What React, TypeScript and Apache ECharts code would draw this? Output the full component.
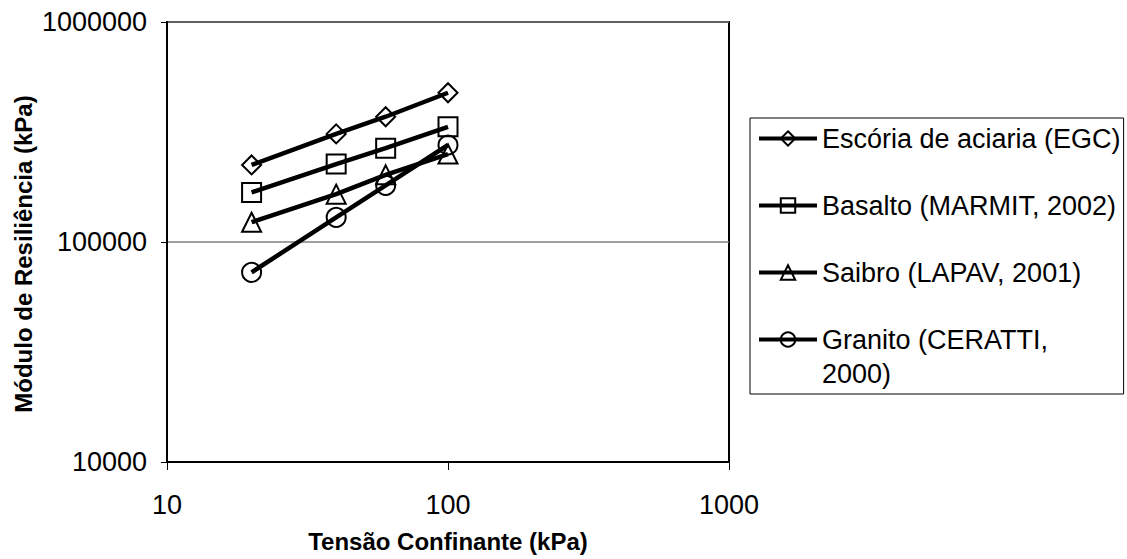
import React, { useEffect, useRef } from 'react';
import * as echarts from 'echarts';

const xValues = [20, 40, 60, 100];
const seriesNames = [
  'Escória de aciaria (EGC)',
  'Basalto (MARMIT, 2002)',
  'Saibro (LAPAV, 2001)',
  'Granito (CERATTI, 2000)',
];
// legend text as it is wrapped in the original (first line / continuation)
const legendFirstLines = [
  'Escória de aciaria (EGC)',
  'Basalto (MARMIT, 2002)',
  'Saibro (LAPAV, 2001)',
  'Granito (CERATTI,',
];
const legendContinuation = '2000)';
const escoria = [224000, 310000, 371000, 477000];
const basalto = [168000, 226000, 267000, 334000];
const saibro = [123000, 165000, 202000, 251000];
const granito = [72800, 129500, 181000, 276000];
const seriesSymbols = ['diamond', 'rect', 'triangle', 'circle'];
const xTicks = [10, 100, 1000];
const xTickLabels = ['10', '100', '1000'];
const yTicks = [10000, 100000, 1000000];
const yTickLabels = ['10000', '100000', '1000000'];
const xTitle = 'Tensão Confinante (kPa)';
const yTitle = 'Módulo de Resiliência (kPa)';

const FONT = "'Liberation Sans', Arial, sans-serif";

function labelFor(ticks: number[], labels: string[]) {
  return (v: number) => {
    const i = ticks.findIndex((t) => Math.abs(Math.log10(t) - Math.log10(v)) < 1e-6);
    return i >= 0 ? labels[i] : '';
  };
}

export default function App() {
  const ref = useRef<HTMLDivElement>(null);
  useEffect(() => {
    document.body.style.margin = '0';
    const chart = echarts.init(ref.current!, null, { renderer: 'svg' });
    const allData = [escoria, basalto, saibro, granito];
    const LH = 33;
    const LEG_LEFT = 750;
    const LEG_TOP = 118;
    const PAD_TOP = 4;
    const ITEM_GAP = 34;
    chart.setOption({
      animation: false,
      backgroundColor: '#fff',
      textStyle: { fontFamily: FONT },
      grid: {
        left: 167,
        right: 1127 - 729,
        top: 22,
        bottom: 559 - 462,
        show: true,
        borderColor: '#000',
        borderWidth: 2,
        containLabel: false,
      },
      legend: {
        orient: 'vertical',
        left: LEG_LEFT,
        top: LEG_TOP,
        padding: [PAD_TOP, 3, 5 + LH, 7],
        itemGap: ITEM_GAP,
        itemWidth: 58,
        itemHeight: 18,
        borderColor: '#000',
        borderWidth: 1,
        selectedMode: false,
        lineStyle: { width: 4, color: '#000' },
        textStyle: { fontSize: 27, color: '#000', fontFamily: FONT, lineHeight: LH },
        formatter: (name: string) => legendFirstLines[seriesNames.indexOf(name)],
        data: seriesNames,
      },
      graphic: [
        {
          type: 'text',
          left: LEG_LEFT + 7 + 58 + 7,
          top: LEG_TOP + PAD_TOP + 3 * (LH + ITEM_GAP) + LH + 1,
          style: {
            text: legendContinuation,
            font: `27px ${FONT}`,
            fill: '#000',
            lineHeight: LH,
          },
        },
      ],
      xAxis: {
        type: 'log',
        logBase: 10,
        min: xTicks[0],
        max: xTicks[xTicks.length - 1],
        name: xTitle,
        nameLocation: 'middle',
        nameGap: 67,
        nameTextStyle: { fontSize: 24, fontWeight: 'bold', color: '#000', fontFamily: FONT },
        axisLine: { lineStyle: { color: '#000', width: 2 } },
        axisTick: { show: true, length: 8, lineStyle: { color: '#000', width: 1 } },
        axisLabel: {
          fontSize: 27,
          color: '#000',
          margin: 29,
          fontFamily: FONT,
          formatter: labelFor(xTicks, xTickLabels),
        },
        splitLine: { show: false },
        minorTick: { show: false },
      },
      yAxis: {
        type: 'log',
        logBase: 10,
        min: yTicks[0],
        max: yTicks[yTicks.length - 1],
        name: yTitle,
        nameLocation: 'middle',
        nameGap: 132,
        nameTextStyle: {
          fontSize: 24,
          fontWeight: 'bold',
          color: '#000',
          fontFamily: FONT,
          padding: [0, 24, 0, 0],
        },
        axisLine: { lineStyle: { color: '#000', width: 2 } },
        axisTick: { show: true, length: 6, lineStyle: { color: '#000', width: 1 } },
        axisLabel: {
          fontSize: 27,
          color: '#000',
          margin: 20,
          fontFamily: FONT,
          formatter: labelFor(yTicks, yTickLabels),
        },
        splitLine: { show: true, lineStyle: { color: '#808080', width: 1.5 } },
        minorTick: { show: false },
      },
      series: allData.map((vals, i) => ({
        name: seriesNames[i],
        type: 'line',
        data: xValues.map((x, j) => [x, vals[j]]),
        symbol: seriesSymbols[i],
        symbolSize: 19,
        showAllSymbol: true,
        lineStyle: { color: '#000', width: 4.5 },
        itemStyle: { color: 'rgba(0,0,0,0)', borderColor: '#000', borderWidth: 2 },
        emphasis: { disabled: true },
      })),
    });
    return () => chart.dispose();
  }, []);
  return <div ref={ref} style={{ width: 1127, height: 559 }} />;
}
